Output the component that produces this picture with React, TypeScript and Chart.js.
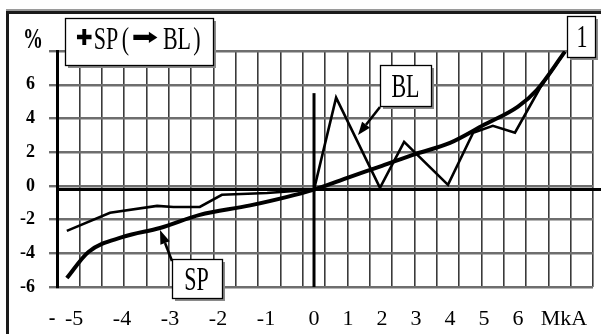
import React, { useEffect, useRef } from "react";
import { Chart, registerables } from "chart.js";

Chart.register(...registerables);

// ---- data (current in mkA, value in %) ----
const X_TICKS = [-5, -4, -3, -2, -1, 0, 1, 2, 3, 4, 5, 6];
const X_UNIT_LABEL = "MkA";
const X_UNIT_AT = 7.35;
const Y_TICKS = [-6, -4, -2, 0, 2, 4, 6];

const SP_X = [-5.15, -4.7, -3.98, -3.21, -2.38, -1.33, 0, 1, 2, 3, 4, 5, 6, 6.56, 7.38];
const SP_Y = [-5.47, -3.92, -3.03, -2.5, -1.72, -1.16, -0.22, 0.49, 1.19, 1.9, 2.55, 3.62, 4.7, 5.7, 7.96];

const BL_X = [-5.15, -4.25, -3.27, -2.93, -2.38, -1.92, -0.98, 0, 0.65, 1.94, 2.65, 3.94, 4.68, 5.26, 5.91, 6.65, 7.38];
const BL_Y = [-2.67, -1.6, -1.19, -1.25, -1.25, -0.53, -0.42, -0.22, 5.23, -0.12, 2.61, 0.06, 3.15, 3.56, 3.15, 5.82, 7.96];

// axis decorations (value units)
const ZERO_LINE = -0.21;
const V_AXIS_TOP = 5.5;

// ---- non-uniform current axis: grid cells (24 columns) ----
const GRID_COLS = 24;
const ZERO_COL = 11.508;
const NEG_COLS_PER_UNIT = 2.149;
const POS_COLS_PER_UNIT = 1.5224;
const toAxis = (v: number) => ZERO_COL + v * (v < 0 ? NEG_COLS_PER_UNIT : POS_COLS_PER_UNIT);

const SERIF = "'Liberation Serif', 'Times New Roman', serif";

function stretchText(ctx: CanvasRenderingContext2D, text: string, cx: number, by: number, font: string, sx: number, sy: number, baseline: CanvasTextBaseline = "alphabetic") {
  ctx.save();
  ctx.font = font;
  ctx.textAlign = "center";
  ctx.textBaseline = baseline;
  ctx.fillStyle = "#000";
  ctx.translate(cx, by);
  ctx.scale(sx, sy);
  ctx.fillText(text, 0, 0);
  ctx.restore();
}

function box(ctx: CanvasRenderingContext2D, x: number, y: number, w: number, h: number, shadow = true) {
  ctx.save();
  if (shadow) {
    ctx.fillStyle = "#8a8a8a";
    ctx.fillRect(x + 3, y + 3, w, h);
  }
  ctx.fillStyle = "#fff";
  ctx.fillRect(x, y, w, h);
  ctx.strokeStyle = "#000";
  ctx.lineWidth = 1.3;
  ctx.strokeRect(x + 0.5, y + 0.5, w, h);
  ctx.restore();
}

function arrow(ctx: CanvasRenderingContext2D, x1: number, y1: number, x2: number, y2: number, len: number, half: number) {
  const a = Math.atan2(y2 - y1, x2 - x1);
  const bx = x2 - len * Math.cos(a);
  const by = y2 - len * Math.sin(a);
  ctx.save();
  ctx.strokeStyle = "#000";
  ctx.fillStyle = "#000";
  ctx.lineWidth = 2.6;
  ctx.beginPath();
  ctx.moveTo(x1, y1);
  ctx.lineTo(bx, by);
  ctx.stroke();
  ctx.beginPath();
  ctx.moveTo(x2, y2);
  ctx.lineTo(bx + half * Math.sin(a), by - half * Math.cos(a));
  ctx.lineTo(bx - half * Math.sin(a), by + half * Math.cos(a));
  ctx.closePath();
  ctx.fill();
  ctx.restore();
}

const decor = {
  id: "decor",
  beforeDatasetsDraw(chart: any) {
    const { ctx, scales, chartArea } = chart;
    const x = scales.x;
    const y = scales.y;
    ctx.save();
    ctx.strokeStyle = "#000";
    ctx.lineWidth = 3;
    const y0 = y.getPixelForValue(ZERO_LINE);
    ctx.beginPath();
    ctx.moveTo(chartArea.left, y0);
    ctx.lineTo(chart.width, y0);
    ctx.stroke();
    const x0 = x.getPixelForValue(toAxis(0));
    ctx.beginPath();
    ctx.moveTo(x0, y.getPixelForValue(V_AXIS_TOP));
    ctx.lineTo(x0, chartArea.bottom);
    ctx.stroke();
    ctx.restore();
  },
  afterDraw(chart: any) {
    const ctx: CanvasRenderingContext2D = chart.ctx;
    // outer frame
    ctx.save();
    ctx.fillStyle = "#9a9a9a";
    ctx.fillRect(6, 9, chart.width - 6, 2);
    ctx.fillStyle = "#1a1a1a";
    ctx.fillRect(6, 11, chart.width - 6, 3);
    ctx.fillRect(6, 11, 3, chart.height - 11);
    ctx.restore();

    // "%" unit label
    stretchText(ctx, "%", 33, 48, `bold 20px ${SERIF}`, 1, 1.45);
    // stray dash left of the axis labels
    stretchText(ctx, "-", 52, 325, `20px ${SERIF}`, 1, 1.2);

    // legend box
    box(ctx, 65, 18, 148, 47);
    stretchText(ctx, "\u271A", 84.5, 39, `bold 20px 'DejaVu Sans'`, 1, 1.1, "middle");
    stretchText(ctx, "SP", 106, 49, `22px ${SERIF}`, 1, 1.45);
    stretchText(ctx, "(", 125.5, 49, `22px ${SERIF}`, 1, 1.45);
    stretchText(ctx, "\u27A1", 145, 39, `bold 20px 'DejaVu Sans'`, 1.6, 1.05, "middle");
    stretchText(ctx, "BL", 177, 49, `22px ${SERIF}`, 1, 1.45);
    stretchText(ctx, ")", 197, 49, `22px ${SERIF}`, 1, 1.45);

    // BL callout
    box(ctx, 380, 65, 51, 41);
    stretchText(ctx, "BL", 405.5, 97, `22px ${SERIF}`, 1, 1.5);
    arrow(ctx, 380, 107, 358, 135, 13, 5);

    // SP callout
    box(ctx, 172, 259, 50, 39);
    stretchText(ctx, "SP", 196.5, 290, `22px ${SERIF}`, 1, 1.5);
    arrow(ctx, 172, 261, 160, 230, 14, 5);

    // curve number
    box(ctx, 567, 16, 28, 41);
    stretchText(ctx, "1", 582, 47, `22px ${SERIF}`, 1, 1.45);
  },
};

export default function App() {
  const ref = useRef<HTMLCanvasElement | null>(null);

  useEffect(() => {
    if (!ref.current) return;
    const sp = SP_X.map((v, i) => ({ x: toAxis(v), y: SP_Y[i] }));
    const bl = BL_X.map((v, i) => ({ x: toAxis(v), y: BL_Y[i] }));
    const xLabels = [...X_TICKS.map(String), X_UNIT_LABEL];
    const xLabelPos = [...X_TICKS, X_UNIT_AT].map(toAxis);

    const chart = new Chart(ref.current, {
      type: "line",
      data: {
        datasets: [
          {
            label: "BL",
            data: bl,
            borderColor: "#000",
            borderWidth: 2.6,
            pointRadius: 0,
            tension: 0,
            borderJoinStyle: "miter",
          },
          {
            label: "SP",
            data: sp,
            borderColor: "#000",
            borderWidth: 4,
            pointRadius: 0,
            cubicInterpolationMode: "monotone",
          },
        ],
      },
      options: {
        responsive: false,
        animation: false,
        devicePixelRatio: 1,
        layout: { padding: { left: 0, top: 51, right: 8, bottom: 0 } },
        plugins: { legend: { display: false }, tooltip: { enabled: false } },
        scales: {
          x: {
            type: "linear",
            position: "bottom",
            min: 0,
            max: GRID_COLS,
            ticks: { display: false, stepSize: 1 },
            grid: { color: "#3a3a3a", lineWidth: 1.6, drawTicks: false },
            border: { display: false },
            afterFit: (s: any) => {
              s.height = 0;
            },
          },
          x2: {
            type: "linear",
            position: "bottom",
            min: 0,
            max: GRID_COLS,
            grid: { display: false },
            border: { display: false },
            afterBuildTicks: (s: any) => {
              s.ticks = xLabelPos.map((v) => ({ value: v }));
            },
            ticks: {
              autoSkip: false,
              maxRotation: 0,
              padding: 11,
              color: "#000",
              font: { family: SERIF, size: 22 },
              callback: (_v: any, i: number) => xLabels[i],
            },
            afterFit: (s: any) => {
              s.height = 47;
            },
          },
          y: {
            type: "linear",
            min: -6,
            max: 8,
            afterBuildTicks: (s: any) => {
              s.ticks = [...Y_TICKS, 8].map((v) => ({ value: v }));
            },
            ticks: {
              padding: 14,
              color: "#000",
              font: { family: SERIF, size: 18, weight: "bold" },
              callback: (v: any) => (Y_TICKS.includes(v) ? String(v) : ""),
            },
            grid: { color: "#6e6e6e", lineWidth: 2.4, tickLength: 8 },
            border: { display: true, color: "#000", width: 3 },
            afterFit: (s: any) => {
              s.width = 57;
            },
          },
        },
      },
      plugins: [decor],
    });
    return () => chart.destroy();
  }, []);

  return (
    <div style={{ position: "absolute", left: 0, top: 0, width: 601, height: 334, background: "#fff" }}>
      <canvas ref={ref} width={601} height={334} style={{ display: "block" }} />
    </div>
  );
}
